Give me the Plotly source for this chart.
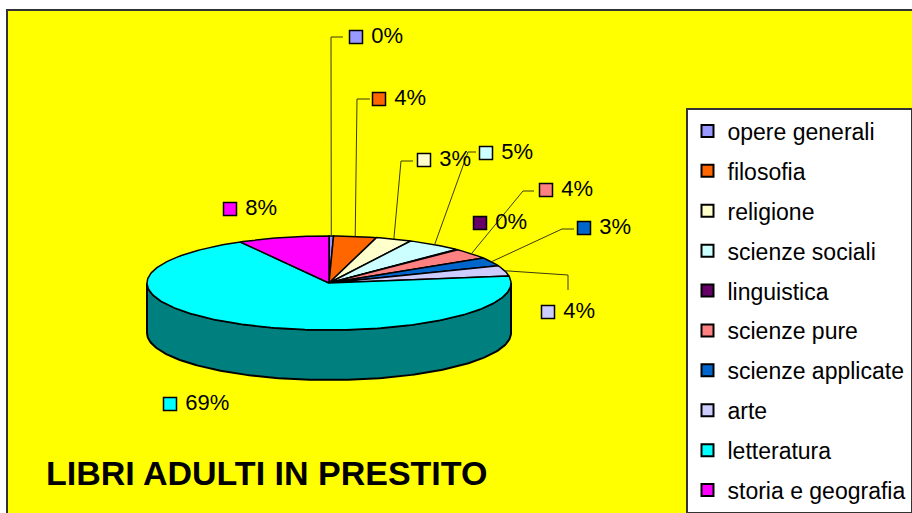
import math
import plotly.graph_objects as go

# ---------------- data ----------------
categories = ["opere generali", "filosofia", "religione", "scienze sociali",
              "linguistica", "scienze pure", "scienze applicate", "arte",
              "letteratura", "storia e geografia"]
values = [0.4, 3.8, 3.2, 4.9, 0.2, 3.6, 2.9, 3.6, 69.3, 8.1]
colors = ["#9999FF", "#FF6600", "#FFFFCC", "#CCFFFF", "#660066",
          "#FF8080", "#0066CC", "#CCCCFF", "#00FFFF", "#FF00FF"]
chart_title = "LIBRI ADULTI IN PRESTITO"

# ---------------- layout / style ----------------
W, H = 912, 513
CX, CY, RA, RB, DEPTH = 329, 283, 182, 47, 50
FONT = "Liberation Sans, Arial, sans-serif"
# label square centres (manually placed in the original) and leader elbows
label_pos = [(356, 37), (379, 99), (424, 160), (486, 153), (480, 223),
             (546, 190), (584, 228), (548, 312), (170, 404), (230, 209)]
leader_pts = [[(331, 37), (343, 37)], [(357, 99), (370, 99)],
              [(401, 161), (413, 161)], [(468, 152), (476, 152)], None,
              [(523, 191), (534, 191)], [(562, 229), (574, 229)],
              [(568, 275), (568, 290)], None, None]


def darker(hexc, f=0.5):
    r, g, b = (int(hexc[i:i + 2], 16) for i in (1, 3, 5))
    return "#%02x%02x%02x" % (int(r * f), int(g * f), int(b * f))


def pt(theta, dy=0.0):
    return CX + RA * math.sin(theta), CY - RB * math.cos(theta) + dy


def arc(t0, t1, dy=0.0):
    n = max(2, int(abs(t1 - t0) / (2 * math.pi) * 360))
    return [pt(t0 + (t1 - t0) * i / n, dy) for i in range(n + 1)]


total = sum(values)
bounds = []
acc = 0.0
for v in values:
    t0 = acc / total * 2 * math.pi
    acc += v
    t1 = acc / total * 2 * math.pi
    bounds.append((t0, t1))

fig = go.Figure()

# side walls (front half only)
for (t0, t1), col in zip(bounds, colors):
    s, e = max(t0, math.pi / 2), min(t1, 3 * math.pi / 2)
    if e > s:
        pts = arc(s, e) + arc(e, s, DEPTH)
        pts.append(pts[0])
        fig.add_trace(go.Scatter(
            x=[p[0] for p in pts], y=[p[1] for p in pts], mode="lines",
            fill="toself", fillcolor=darker(col),
            line=dict(color="black", width=2), hoverinfo="skip", showlegend=False))

# top faces
for (t0, t1), col, name in zip(bounds, colors, categories):
    pts = [(CX, CY)] + arc(t0, t1) + [(CX, CY)]
    fig.add_trace(go.Scatter(
        x=[p[0] for p in pts], y=[p[1] for p in pts], mode="lines",
        fill="toself", fillcolor=col, line=dict(color="black", width=1.5),
        name=name, hoverinfo="name", showlegend=False))

# leader lines
for (t0, t1), lp in zip(bounds, leader_pts):
    if lp is None:
        continue
    sx, sy = pt((t0 + t1) / 2)
    xs = [sx] + [p[0] for p in lp]
    ys = [sy] + [p[1] for p in lp]
    fig.add_trace(go.Scatter(x=xs, y=ys, mode="lines",
                             line=dict(color="#3a3a10", width=1),
                             hoverinfo="skip", showlegend=False))

# data labels
for v, col, (lx, ly) in zip(values, colors, label_pos):
    fig.add_trace(go.Scatter(
        x=[lx], y=[ly], mode="markers+text",
        marker=dict(symbol="square", size=13, color=col,
                    line=dict(color="black", width=1.5)),
        text=[" %d%%" % round(v / total * 100)], textposition="middle right",
        textfont=dict(family=FONT, size=22, color="black"),
        hoverinfo="skip", showlegend=False))

# legend entries
for name, col in zip(categories, colors):
    fig.add_trace(go.Scatter(
        x=[None], y=[None], mode="markers", name=name, legendgroup=name,
        marker=dict(symbol="square", size=13, color=col,
                    line=dict(color="black", width=1.5))))

fig.add_annotation(x=266, y=473, text="<b>%s</b>" % chart_title, showarrow=False,
                   font=dict(family=FONT, size=34, color="black"),
                   xanchor="center", yanchor="middle")

fig.update_layout(
    width=W, height=H,
    margin=dict(l=0, r=0, t=0, b=0, pad=0, autoexpand=False),
    paper_bgcolor="white", plot_bgcolor="white",
    xaxis=dict(range=[0, W], visible=False, fixedrange=True),
    yaxis=dict(range=[H, 0], visible=False, fixedrange=True),
    shapes=[dict(type="rect", xref="x", yref="y", x0=7, y0=10, x1=W + 5, y1=H + 5,
                 fillcolor="#FFFF00", line=dict(color="#333333", width=2),
                 layer="below")],
    legend=dict(x=686 / W, y=1 - 108 / H, xanchor="left", yanchor="top",
                bgcolor="white", bordercolor="#333333", borderwidth=1.5,
                font=dict(family=FONT, size=23, color="black"),
                tracegroupgap=7, itemsizing="constant"),
    font=dict(family=FONT),
    showlegend=True,
)

fig.write_html("out.html", config={"displayModeBar": False},
               post_script="document.body.style.margin='0';document.body.style.overflow='hidden';")
